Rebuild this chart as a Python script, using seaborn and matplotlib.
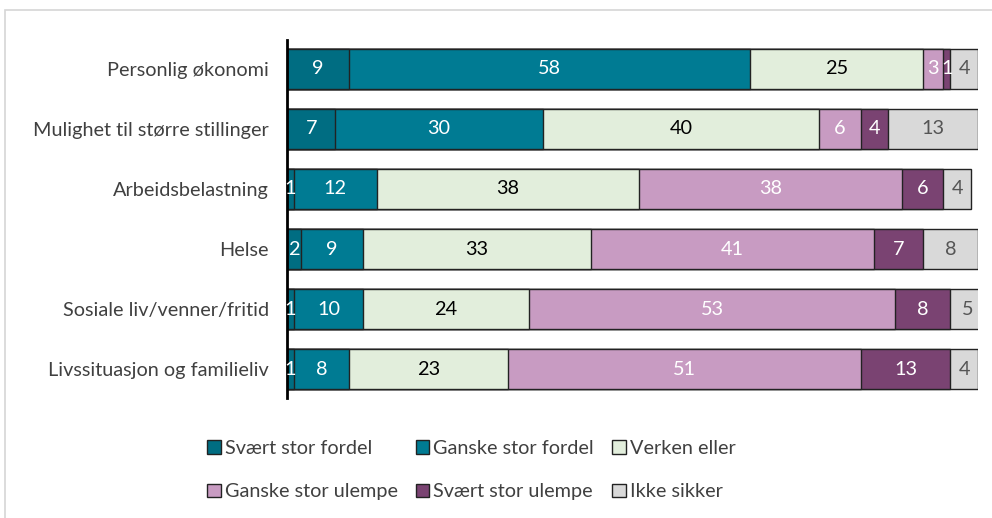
import matplotlib
matplotlib.use("Agg")
import matplotlib.pyplot as plt
import matplotlib.patches as mpatches
import seaborn as sns
import pandas as pd
import numpy as np

categories = ["Personlig økonomi", "Mulighet til større stillinger", "Arbeidsbelastning",
              "Helse", "Sosiale liv/venner/fritid", "Livssituasjon og familieliv"]
series = ["Svært stor fordel", "Ganske stor fordel", "Verken eller",
          "Ganske stor ulempe", "Svært stor ulempe", "Ikke sikker"]
svaert_fordel = [9, 7, 1, 2, 1, 1]
ganske_fordel = [58, 30, 12, 9, 10, 8]
verken = [25, 40, 38, 33, 24, 23]
ganske_ulempe = [3, 6, 38, 41, 53, 51]
svaert_ulempe = [1, 4, 6, 7, 8, 13]
ikke_sikker = [4, 13, 4, 8, 5, 4]

values = [svaert_fordel, ganske_fordel, verken, ganske_ulempe, svaert_ulempe, ikke_sikker]
colors = ["#006d82", "#007b93", "#e2eedc", "#c89bc2", "#7a4372", "#d9d9d9"]
text_colors = ["white", "white", "black", "white", "white", "#555555"]

sns.set_theme(style="white")
plt.rcParams["font.family"] = ["Lato", "DejaVu Sans"]
FS = 14.3

fig = plt.figure(figsize=(9.92, 5.18), dpi=100)
ax = fig.add_axes([287/992, 1-398/518, (978-287)/992, (398-40)/518])

df = pd.DataFrame({"cat": categories})
cums = np.cumsum(np.array(values), axis=0)
for i in range(len(series) - 1, -1, -1):
    df["v"] = cums[i]
    sns.barplot(data=df, y="cat", x="v", orient="h", color=colors[i], saturation=1,
                width=0.67, edgecolor="#222222", linewidth=1.0, ax=ax)

for i in range(len(series)):
    for j in range(len(categories)):
        v = values[i][j]
        xc = cums[i][j] - v / 2
        ax.text(xc, j, str(v), ha="center", va="center", color=text_colors[i], fontsize=FS)

ax.set_xlim(0, 100)
ax.set_ylim(5.48, -0.48)
ax.set_xlabel("")
ax.set_ylabel("")
ax.set_xticks([])
for s in ["top", "right", "bottom"]:
    ax.spines[s].set_visible(False)
ax.spines["left"].set_color("black")
ax.spines["left"].set_linewidth(2)
ax.tick_params(axis="y", length=0, pad=13, labelsize=FS, labelcolor="#404040")

handles = [mpatches.Patch(facecolor=c, edgecolor="#222222", linewidth=1, label=s)
           for c, s in zip(colors, series)]
order = [0, 3, 1, 4, 2, 5]
handles = [handles[k] for k in order]
leg = fig.legend(handles=handles, ncol=3, loc="center", bbox_to_anchor=(0.475, 1-470/518),
                 frameon=False, fontsize=FS, handlelength=0.7, handleheight=0.7,
                 handletextpad=0.2, columnspacing=0.9, labelspacing=1.35)
for t in leg.get_texts():
    t.set_color("#404040")

border = mpatches.Rectangle((5/992, -0.1), 1.2, 1.1 - 10/518, transform=fig.transFigure,
                            fill=False, edgecolor="#d6d6d6", linewidth=1.2)
fig.patches.append(border)

fig.savefig("out.png", dpi=100)
